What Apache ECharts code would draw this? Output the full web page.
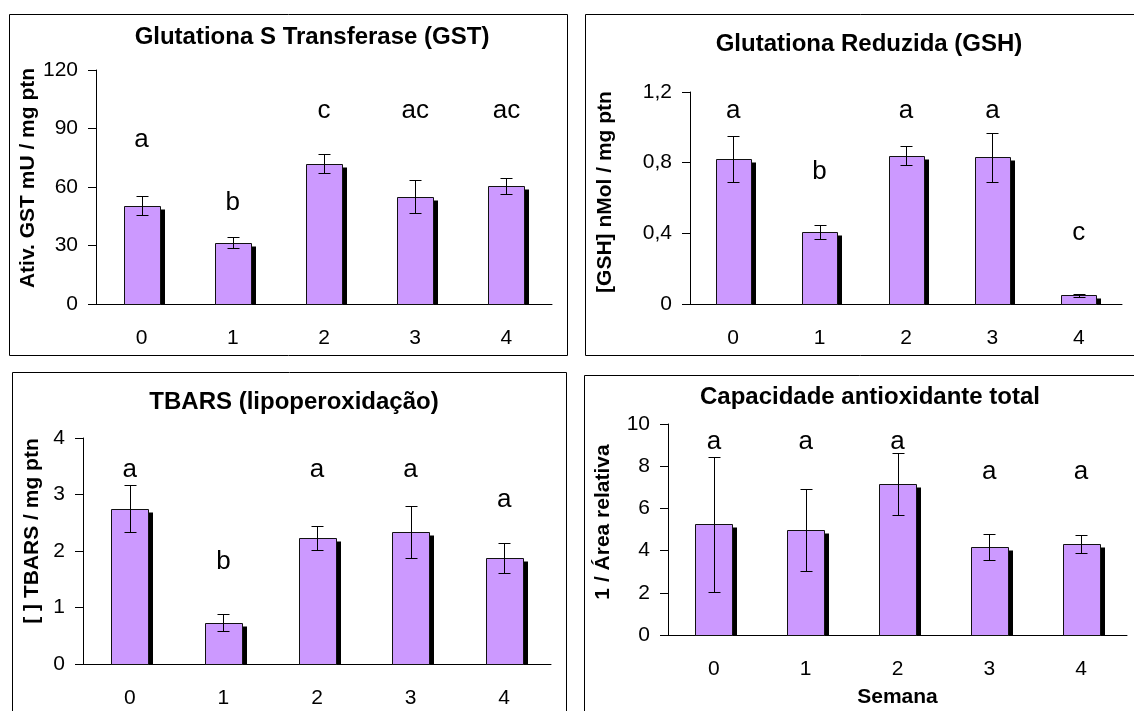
<!DOCTYPE html>
<html>
<head>
<meta charset="utf-8">
<script src="https://cdn.jsdelivr.net/npm/echarts@6.0.0/dist/echarts.min.js"></script>
<style>
    html, body { margin: 0; padding: 0; background: #fff; }
    #main { width: 1134px; height: 711px; }
</style>
</head>
<body>
<div id="main"></div>
<script>
var semanas = ['0', '1', '2', '3', '4'];

// Glutationa S Transferase
var gstMedia = [50.5, 31.5, 72, 55, 60.5];
var gstErro = [4.7, 2.8, 5, 8.4, 4.2];
var gstLetras = ['a', 'b', 'c', 'ac', 'ac'];
var gstLetrasY = [84, 52, 99, 99, 99];

// Glutationa Reduzida
var gshMedia = [0.82, 0.41, 0.84, 0.83, 0.05];
var gshErro = [0.13, 0.04, 0.053, 0.137, 0.008];
var gshLetras = ['a', 'b', 'a', 'a', 'c'];
var gshLetrasY = [1.095, 0.75, 1.095, 1.095, 0.405];

// TBARS
var tbarsMedia = [2.75, 0.73, 2.23, 2.33, 1.88];
var tbarsErro = [0.42, 0.15, 0.22, 0.46, 0.265];
var tbarsLetras = ['a', 'b', 'a', 'a', 'a'];
var tbarsLetrasY = [3.43, 1.8, 3.43, 3.43, 2.9];

// Capacidade antioxidante total
var capMedia = [5.25, 4.98, 7.15, 4.17, 4.33];
var capErro = [3.2, 1.95, 1.46, 0.6, 0.43];
var capLetras = ['a', 'a', 'a', 'a', 'a'];
var capLetrasY = [9.15, 9.15, 9.15, 7.75, 7.75];

var fonte = 'Liberation Sans';

var myChart = echarts.init(document.getElementById('main'));

function montaDados(media, erro, letrasY) {
    var arr = [];
    for (var i = 0; i < media.length; i++) {
        arr.push([i, media[i], erro[i], letrasY[i]]);
    }
    return arr;
}

function desenhaBarra(letras) {
    return function (params, api) {
        var i = api.value(0);
        var m = api.value(1);
        var e = api.value(2);
        var base = api.coord([i, 0]);
        var topo = api.coord([i, m]);
        var alto = api.coord([i, m + e]);
        var baixo = api.coord([i, m - e]);
        var txt = api.coord([i, api.value(3)]);
        var w = Math.round(api.size([1, 0])[0] * 0.4);
        var x0 = Math.round(base[0] - w / 2) + 0.5;
        var yb = Math.round(base[1]) + 0.5;
        var yt = Math.round(topo[1]) + 0.5;
        var cx = Math.round(base[0]) + 0.5;
        var yh = Math.round(alto[1]) + 0.5;
        var yl = Math.round(baixo[1]) + 0.5;
        return {
            type: 'group',
            children: [
                {
                    type: 'rect',
                    shape: {x: x0 + 4.5, y: yt + 3, width: w, height: yb - yt - 3},
                    style: {fill: '#000'}
                },
                {
                    type: 'rect',
                    shape: {x: x0, y: yt, width: w, height: yb - yt},
                    style: {fill: '#CC99FF', stroke: '#111', lineWidth: 1}
                },
                {
                    type: 'line',
                    shape: {x1: cx, y1: yh, x2: cx, y2: yl},
                    style: {stroke: '#000', lineWidth: 1}
                },
                {
                    type: 'line',
                    shape: {x1: cx - 6, y1: yh, x2: cx + 6, y2: yh},
                    style: {stroke: '#000', lineWidth: 1}
                },
                {
                    type: 'line',
                    shape: {x1: cx - 6, y1: yl, x2: cx + 6, y2: yl},
                    style: {stroke: '#000', lineWidth: 1}
                },
                {
                    type: 'text',
                    x: base[0],
                    y: txt[1],
                    style: {
                        text: letras[params.dataIndex],
                        fill: '#000',
                        fontSize: 26,
                        fontFamily: fonte,
                        align: 'center',
                        verticalAlign: 'middle'
                    }
                }
            ]
        };
    };
}

function eixoX(idx, nome) {
    var ax = {
        gridIndex: idx,
        type: 'category',
        data: semanas,
        axisLine: {lineStyle: {color: '#000', width: 1}},
        axisTick: {length: 7, lineStyle: {color: '#000'}},
        axisLabel: {margin: 24, fontSize: 21, color: '#000', fontFamily: fonte}
    };
    if (nome) {
        ax.name = nome;
        ax.nameLocation = 'middle';
        ax.nameGap = 52;
        ax.nameTextStyle = {fontSize: 21, fontWeight: 'bold', color: '#000', fontFamily: fonte};
    }
    return ax;
}

function eixoY(idx, max, interval, virgula) {
    return {
        gridIndex: idx,
        type: 'value',
        min: 0,
        max: max,
        interval: interval,
        splitLine: {show: false},
        axisLine: {show: true, lineStyle: {color: '#000', width: 1}},
        axisTick: {show: true, length: 8, lineStyle: {color: '#000'}},
        axisLabel: {
            margin: 18,
            fontSize: 21,
            color: '#000',
            fontFamily: fonte,
            formatter: function (v) {
                var s = String(Math.round(v * 10) / 10);
                return virgula ? s.replace('.', ',') : s;
            }
        }
    };
}

function texto(t, x, y, tam, rot) {
    return {
        type: 'text',
        x: x,
        y: y,
        rotation: rot ? Math.PI / 2 : 0,
        style: {
            text: t,
            fill: '#000',
            fontSize: tam,
            fontWeight: 'bold',
            fontFamily: fonte,
            align: 'center',
            verticalAlign: 'middle'
        }
    };
}

function moldura(x, y, w, h) {
    return {
        type: 'rect',
        shape: {x: x, y: y, width: w, height: h},
        style: {fill: null, stroke: '#000', lineWidth: 1}
    };
}

var option = {
    animation: false,
    backgroundColor: '#fff',
    grid: [
        {left: 96, top: 70, width: 456, height: 234},
        {left: 690, top: 92, width: 432, height: 212},
        {left: 83, top: 438, width: 468, height: 226},
        {left: 668, top: 424, width: 459, height: 211}
    ],
    xAxis: [eixoX(0), eixoX(1), eixoX(2), eixoX(3, 'Semana')],
    yAxis: [
        eixoY(0, 120, 30, false),
        eixoY(1, 1.2, 0.4, true),
        eixoY(2, 4, 1, false),
        eixoY(3, 10, 2, false)
    ],
    graphic: [
        moldura(9.5, 14.5, 558, 341),
        moldura(585.5, 14.5, 600, 341),
        moldura(12.5, 372.5, 554, 400),
        moldura(584.5, 375.5, 600, 400),
        texto('Glutationa S Transferase (GST)', 312, 37, 24),
        texto('Glutationa Reduzida (GSH)', 869, 44.5, 24),
        texto('TBARS (lipoperoxidação)', 294, 402, 24),
        texto('Capacidade antioxidante total', 870, 397, 24),
        texto('Ativ. GST mU / mg ptn', 28, 178, 21, true),
        texto('[GSH] nMol / mg ptn', 605, 192, 21, true),
        texto('[ ] TBARS / mg ptn', 32.5, 531, 21, true),
        texto('1 / Área relativa', 603, 522, 21, true)
    ],
    series: [
        {
            type: 'custom', xAxisIndex: 0, yAxisIndex: 0, silent: true,
            renderItem: desenhaBarra(gstLetras),
            data: montaDados(gstMedia, gstErro, gstLetrasY)
        },
        {
            type: 'custom', xAxisIndex: 1, yAxisIndex: 1, silent: true,
            renderItem: desenhaBarra(gshLetras),
            data: montaDados(gshMedia, gshErro, gshLetrasY)
        },
        {
            type: 'custom', xAxisIndex: 2, yAxisIndex: 2, silent: true,
            renderItem: desenhaBarra(tbarsLetras),
            data: montaDados(tbarsMedia, tbarsErro, tbarsLetrasY)
        },
        {
            type: 'custom', xAxisIndex: 3, yAxisIndex: 3, silent: true,
            renderItem: desenhaBarra(capLetras),
            data: montaDados(capMedia, capErro, capLetrasY)
        }
    ]
};
myChart.setOption(option);
</script>
</body>
</html>
